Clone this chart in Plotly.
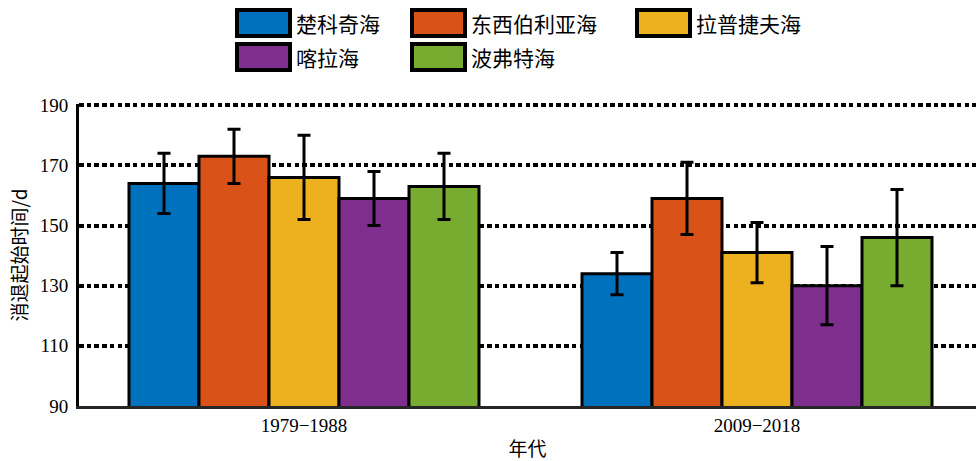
import plotly.graph_objects as go

# Periods on the x axis
periods = ["1979\u22121988", "2009\u22122018"]

# Seas (series), colours
seas = ["楚科奇海", "东西伯利亚海", "拉普捷夫海", "喀拉海", "波弗特海"]
colors = ["#0072BD", "#D95319", "#EDB120", "#7E2F8E", "#77AC30"]

# Mean retreat onset day and its error, per sea, for each period
onset_mean = {
    "楚科奇海": [164, 134],
    "东西伯利亚海": [173, 159],
    "拉普捷夫海": [166, 141],
    "喀拉海": [159, 130],
    "波弗特海": [163, 146],
}
onset_err = {
    "楚科奇海": [10, 7],
    "东西伯利亚海": [9, 12],
    "拉普捷夫海": [14, 10],
    "喀拉海": [9, 13],
    "波弗特海": [11, 16],
}

y_ticks = [90, 110, 130, 150, 170, 190]

W, H = 976, 461
ML, MR, MT, MB = 79, 0, 104, 55
PW, PH = W - ML - MR, H - MT - MB


def px_to_paper(x, y):
    return (x - ML) / PW, (H - MB - y) / PH


serif = "Liberation Serif, Times New Roman, serif"
cjk = "Noto Sans CJK SC, sans-serif"

fig = go.Figure()
xpos = list(range(len(periods)))
for name, col in zip(seas, colors):
    fig.add_trace(go.Bar(
        x=xpos,
        y=onset_mean[name],
        name=name,
        marker=dict(color=col, line=dict(color="black", width=3)),
        error_y=dict(type="data", array=onset_err[name], visible=True,
                     color="black", thickness=3, width=6.5),
        showlegend=False,
    ))

# Legend drawn as framed swatches with labels (3 columns, 2 rows)
col_x = [237, 412, 637]
row_y = [10, 44]
sw_w, sw_h = 53, 26
shapes = []
annotations = []
for i, (name, col) in enumerate(zip(seas, colors)):
    r, c = divmod(i, 3)
    x0, y0 = col_x[c], row_y[r]
    x1, y1 = x0 + sw_w, y0 + sw_h
    px0, py0 = px_to_paper(x0, y1)
    px1, py1 = px_to_paper(x1, y0)
    shapes.append(dict(type="rect", xref="paper", yref="paper",
                       x0=px0, y0=py0, x1=px1, y1=py1,
                       fillcolor=col, line=dict(color="black", width=4)))
    tx, ty = px_to_paper(x1 + 4, y0 + sw_h / 2)
    annotations.append(dict(xref="paper", yref="paper", x=tx, y=ty,
                            xanchor="left", yanchor="middle", showarrow=False,
                            text=name, font=dict(family=cjk, size=21, color="black")))

fig.update_layout(
    width=W, height=H,
    margin=dict(l=ML, r=MR, t=MT, b=MB),
    paper_bgcolor="white", plot_bgcolor="white",
    barmode="group", bargap=1 - 350 / 453, bargroupgap=0,
    shapes=shapes, annotations=annotations,
    xaxis=dict(
        range=[(ML - 304) / 453, (W - 304) / 453],
        tickvals=xpos, ticktext=periods,
        tickfont=dict(family=serif, size=19, color="black"),
        showline=True, linecolor="#262626", linewidth=3,
        showgrid=False, zeroline=False, ticks="",
        title=dict(text="年代", font=dict(family=cjk, size=19, color="black"), standoff=10),
    ),
    yaxis=dict(
        # a small headroom above 190 keeps its grid line from being clipped
        range=[90, 190.4], tickvals=y_ticks,
        tickfont=dict(family=serif, size=19, color="black"),
        showline=True, linecolor="black", linewidth=3,
        showgrid=True, gridcolor="black", gridwidth=3.5, griddash="4.5px,3.2px",
        zeroline=False, ticks="", ticklabelstandoff=4,
        title=dict(text="消退起始时间/d", font=dict(family=cjk, size=19, color="black"), standoff=8),
    ),
)

fig.write_html("out.html")
